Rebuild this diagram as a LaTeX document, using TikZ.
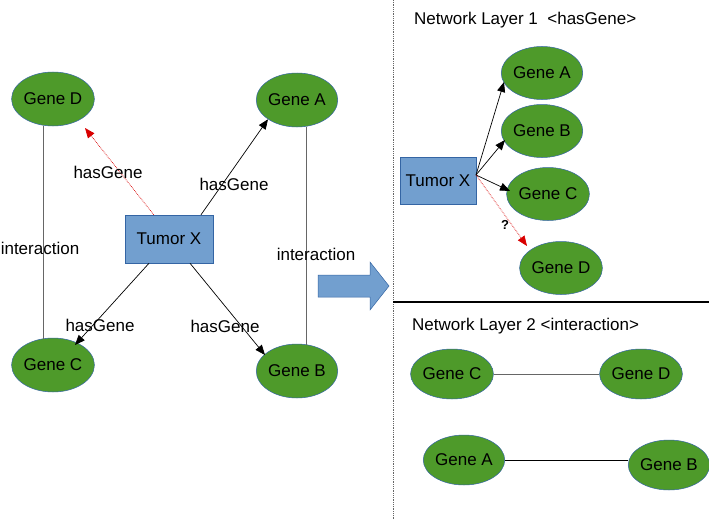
\documentclass[tikz,border=0pt]{standalone}
\usepackage{fontspec}
\setmainfont{Liberation Sans}
\usetikzlibrary{shapes.geometric,arrows.meta}
\definecolor{gfill}{HTML}{4E9A2A}
\definecolor{gdraw}{HTML}{3465A4}
\definecolor{bfill}{HTML}{729FCF}
\begin{document}
\begin{tikzpicture}[x=1pt,y=-1pt,
 gene/.style={ellipse,fill=gfill,draw=gdraw,line width=0.5pt,minimum width=78pt,minimum height=54pt,inner sep=0pt,font=\fontsize{17}{20}\selectfont},
 tumor/.style={rectangle,fill=bfill,draw=gdraw,line width=0.5pt,inner sep=0pt,font=\fontsize{17}{20}\selectfont},
 lab/.style={font=\fontsize{17}{20}\selectfont,inner sep=1pt},
 arr/.style={-{Triangle[length=10pt,width=8pt]},line width=0.7pt},
 red/.style={-{Triangle[length=10pt,width=8pt]},draw=red!85!black,densely dotted,line width=0.7pt},
 link/.style={draw=black!60,line width=0.8pt}]
\useasboundingbox (0,0) rectangle (709,519);
\fill[white] (0,0) rectangle (709,519);
% left
\node[gene] (lD) at (53,99) {Gene D};
\node[gene] (lA) at (297,100) {Gene A};
\node[gene] (lC) at (53,365) {Gene C};
\node[gene,minimum width=80pt] (lB) at (297,371) {Gene B};
\node[tumor,minimum width=88pt,minimum height=48pt] (lT) at (169,239) {Tumor X};
\draw[link] (43,126) -- (43,339);
\draw[link] (306,127) -- (306,345);
\node[lab] (i1) at (40,248) {interaction};
\node[lab] (i2) at (316,254) {interaction};
\draw[red] (lT.north west)++(29,0) coordinate (r0) (r0) -- (85,128) coordinate (r1);
\draw[arr] ([xshift=32pt]lT.north) -- (lA.south west);
\draw[arr] ([xshift=-20pt]lT.south) -- (75,345) coordinate (c1);
\draw[arr] ([xshift=21pt]lT.south) -- (265,355) coordinate (b1);
\node[lab] (h1) at (108,172) {hasGene};
\node[lab] (h2) at (234,184) {hasGene};
\node[lab] (h3) at (100,325) {hasGene};
\node[lab] (h4) at (225,326) {hasGene};
% big arrow
\fill[bfill,draw=gdraw,line width=0.5pt] (318,275) -- (370,275) -- (370,262) -- (389,286) -- (370,310) -- (370,297) -- (318,297) -- cycle;
% dividers
\draw[black!60,densely dotted,line width=0.8pt] (393,0) -- (393,519);
\draw[black,line width=2pt] (393,302) -- (709,302);
% layer 1
\node[lab,anchor=west] (t1) at (413,20) {Network Layer 1\ \ <hasGene>};
\node[tumor,minimum width=76pt,minimum height=47pt] (rT) at (438,181) {Tumor X};
\node[gene,minimum width=76pt,minimum height=53pt] (rA) at (542,73) {Gene A};
\node[gene,minimum width=76pt,minimum height=53pt] (rB) at (542,131) {Gene B};
\node[gene,minimum width=76pt,minimum height=53pt] (rC) at (548,194) {Gene C};
\node[gene,minimum width=76pt,minimum height=53pt] (rD) at (561,268) {Gene D};
\coordinate (rO) at (476,175);
\draw[arr] (rO) -- (504,82);
\draw[arr] (rO) -- (505,140);
\draw[arr] (rO) -- (510,191);
\draw[red] (rO) -- (527,246);
\node[font=\bfseries\fontsize{13}{15}\selectfont] (q) at (505,225) {?};
% layer 2
\node[lab,anchor=west] (t2) at (411,326) {Network Layer 2 <interaction>};
\node[gene,minimum height=50pt] (sC) at (452,374) {Gene C};
\node[gene,minimum height=50pt] (sD) at (641,374) {Gene D};
\node[gene,minimum height=50pt] (sA) at (464,460) {Gene A};
\node[gene,minimum height=50pt] (sB) at (669,465) {Gene B};
\draw[link,line width=0.7pt] (sC) -- (sD);
\draw[black,line width=0.7pt] (sA.east) -- (sB.west |- sA.east);
\end{tikzpicture}
\end{document}
